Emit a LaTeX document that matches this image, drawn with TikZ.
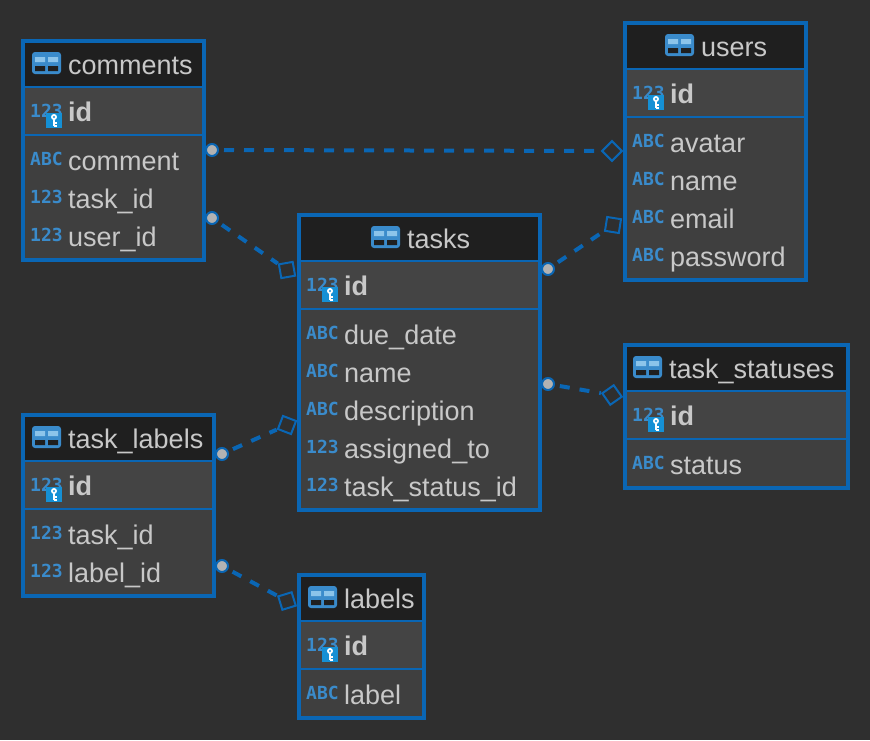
\documentclass[tikz,border=0pt]{standalone}
\usepackage{fontspec}
\setmainfont{Liberation Sans}
\newfontfamily\typefont{DejaVu Sans Mono}
\definecolor{bgdark}{HTML}{2F2F2F}
\definecolor{headdark}{HTML}{1F1F1F}
\definecolor{rowgrey}{HTML}{3F3F3F}
\definecolor{idgrey}{HTML}{444444}
\definecolor{linkblue}{HTML}{0A66B4}
\definecolor{typeblue}{HTML}{3A8BCB}
\definecolor{keyblue}{HTML}{1590D5}
\definecolor{celllight}{HTML}{8CC4EA}
\definecolor{txtgrey}{HTML}{C8C8C8}
\tikzset{
  tablebox/.style={draw=linkblue,line width=4pt,fill=rowgrey,anchor=north west,inner sep=0pt},
  titletxt/.style={anchor=base west,inner sep=0pt,text=txtgrey,font=\fontsize{27}{30}\selectfont},
  coltxt/.style={titletxt},
  idtxt/.style={titletxt,font=\fontsize{27}{30}\selectfont\bfseries},
  typetxt/.style={anchor=base west,inner sep=0pt,text=typeblue,font=\fontsize{18}{20}\typefont\bfseries},
  endcirc/.style={circle,draw=linkblue,line width=2pt,fill=black!30,minimum size=12pt,inner sep=0pt},
  endsq/.style={rectangle,draw=linkblue,line width=2pt,minimum size=14pt,inner sep=0pt},
  rel/.style={draw=linkblue,line width=4pt,dash pattern=on 10pt off 10pt,shorten <=5pt}
}
% table frame with header and id row
\newcommand{\dbframe}[7]{%
  \node[tablebox,minimum width=#4pt,minimum height=#5pt] (#1) at (#2,#3) {};
  \fill[headdark] (#2+4,#3+4) rectangle (#2+#4,#3+47);
  \fill[idgrey] (#2+4,#3+49) rectangle (#2+#4,#3+95);
  \draw[linkblue,line width=2pt] (#2+4,#3+48) -- (#2+#4,#3+48);
  \draw[linkblue,line width=2pt] (#2+4,#3+96) -- (#2+#4,#3+96);
  \fill[typeblue,rounded corners=3pt] (#6-36,#3+13) rectangle (#6-7,#3+35);
  \fill[celllight] (#6-33,#3+18) rectangle (#6-23,#3+23) (#6-20,#3+18) rectangle (#6-10,#3+23);
  \fill[headdark] (#6-33,#3+27) rectangle (#6-23,#3+32) (#6-20,#3+27) rectangle (#6-10,#3+32);
  \node[titletxt] (#1-title) at (#6,#3+35) {#7};
  \node[typetxt] (#1-idtype) at (#2+9,#3+78) {123};
  \fill[keyblue] (#2+25,#3+74) rectangle (#2+41,#3+89);
  \fill[white] (#2+33,#3+78) circle (3pt);
  \fill[keyblue] (#2+33,#3+78) circle (1.2pt);
  \draw[white,line width=1.5pt] (#2+33,#3+80) -- (#2+33,#3+87) (#2+33,#3+84) -- (#2+36,#3+84) (#2+33,#3+87) -- (#2+36,#3+87);
  \node[idtxt] (#1-id) at (#2+47,#3+82) {id};
}
% remaining columns, 38 apart
\newcommand{\dbcols}[4]{%
  \foreach \typ/\col [count=\i from 0] in {#4} {
    \node[typetxt] (#1-type\i) at (#2+9,#3+126+38*\i) {\typ};
    \node[coltxt] (#1-col\i) at (#2+47,#3+131+38*\i) {\col};
  }
}
\begin{document}
\begin{tikzpicture}[x=1pt,y=-1pt]
\useasboundingbox[fill=bgdark] (0,0) rectangle (870,740);

\dbframe{comments}{21}{39}{181}{219}{68}{comments}
\dbcols{comments}{21}{39}{ABC/comment,123/task\_id,123/user\_id}

\dbframe{users}{623}{21}{181}{257}{701}{users}
\dbcols{users}{623}{21}{ABC/avatar,ABC/name,ABC/email,ABC/password}

\dbframe{tasks}{297}{213}{241}{295}{407}{tasks}
\dbcols{tasks}{297}{213}{ABC/due\_date,ABC/name,ABC/description,123/assigned\_to,123/task\_status\_id}

\dbframe{statuses}{623}{343}{223}{143}{669}{task\_statuses}
\dbcols{statuses}{623}{343}{ABC/status}

\dbframe{tasklabels}{21}{413}{191}{181}{68}{task\_labels}
\dbcols{tasklabels}{21}{413}{123/task\_id,123/label\_id}

\dbframe{labels}{297}{573}{125}{143}{344}{labels}
\dbcols{labels}{297}{573}{ABC/label}

% relation ends
\node[endcirc] (c1) at (212,150) {};
\node[endsq,rotate=45] (s1) at (612,151) {};
\node[endcirc] (c2) at (212,218) {};
\node[endsq,rotate=10] (s2) at (287,270) {};
\node[endcirc] (c3) at (548,269) {};
\node[endsq,rotate=-9] (s3) at (613,225) {};
\node[endcirc] (c4) at (548,384) {};
\node[endsq,rotate=35] (s4) at (612,395) {};
\node[endcirc] (c5) at (222,454) {};
\node[endsq,rotate=-21] (s5) at (287,425) {};
\node[endcirc] (c6) at (222,566) {};
\node[endsq,rotate=17] (s6) at (287,601) {};

\foreach \i in {1,...,6} \draw[rel] (c\i) -- (s\i);
\end{tikzpicture}
\end{document}
